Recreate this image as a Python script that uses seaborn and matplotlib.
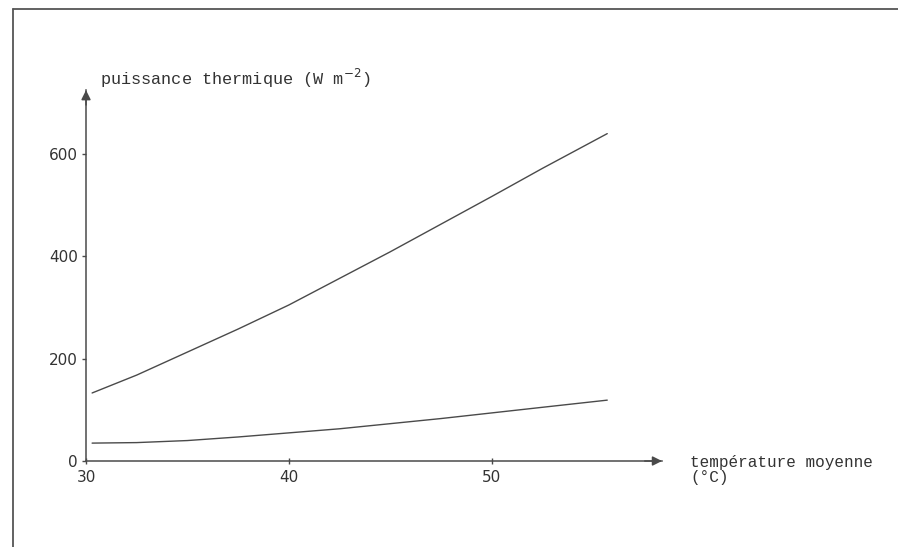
import numpy as np
import pandas as pd
import seaborn as sns
import matplotlib.pyplot as plt
from matplotlib.lines import Line2D

sns.set_theme(style="white")
plt.rcParams['font.family'] = ['DejaVu Sans']

# Werte
temp_haut = [30.3, 32.5, 35.0, 37.5, 40.0, 42.5, 45.0, 47.5, 50.0, 52.5, 55.7]
puissance_haut = [133, 168, 213, 258, 305, 357, 409, 463, 517, 572, 640]

temp_bas = [30.3, 32.5, 35.0, 37.5, 40.0, 42.5, 45.0, 47.5, 50.0, 52.5, 55.7]
puissance_bas = [35, 36, 40, 47, 55, 63, 73, 83, 94, 105, 119]

x_ticks = [30, 40, 50]
y_ticks = [0, 200, 400, 600]

INK = '#4a4a4a'
MONO = 'Liberation Mono'

fig = plt.figure(figsize=(8.98, 5.47), dpi=100)
ax = fig.add_axes([0.0958, 0.1572, 0.6414, 0.678])

df_haut = pd.DataFrame({'temp': temp_haut, 'puissance': puissance_haut})
df_bas = pd.DataFrame({'temp': temp_bas, 'puissance': puissance_bas})
sns.lineplot(data=df_haut, x='temp', y='puissance', color=INK, linewidth=1.0, ax=ax)
sns.lineplot(data=df_bas, x='temp', y='puissance', color=INK, linewidth=1.0, ax=ax)

ax.set_xlim(30, 58.4)
ax.set_ylim(0, 725)
ax.set_xticks(x_ticks)
ax.set_yticks(y_ticks)
ax.set_xticklabels([str(v) for v in x_ticks], fontsize=11, color='#333333')
ax.set_yticklabels([str(v) for v in y_ticks], fontsize=11, color='#333333')
ax.tick_params(axis='x', direction='inout', length=5, width=1, color=INK, pad=4, bottom=True)
ax.tick_params(axis='y', direction='out', length=3, width=1, color=INK, pad=3, left=True)
ax.set_xlabel('')
ax.set_ylabel('')

# Achsen als Pfeile
for side in ['top', 'right']:
	ax.spines[side].set_visible(False)
for side in ['left', 'bottom']:
	ax.spines[side].set_color(INK)
	ax.spines[side].set_linewidth(1.1)
ax.annotate('', xy=(1.0, 0.0), xytext=(0.97, 0.0), xycoords='axes fraction',
	arrowprops=dict(arrowstyle='-|>', color=INK, lw=1.1, mutation_scale=14, shrinkA=0, shrinkB=0))
ax.annotate('', xy=(0.0, 1.0), xytext=(0.0, 0.96), xycoords='axes fraction',
	arrowprops=dict(arrowstyle='-|>', color=INK, lw=1.1, mutation_scale=14, shrinkA=0, shrinkB=0))

# Achsenbeschriftungen im Schreibmaschinenstil
fig.text(100 / 898, 1 - 78 / 547, 'puissance thermique (W m$^{-2}$)', family=MONO,
	fontsize=12.2, color='#333333', va='center', ha='left')
fig.text(690 / 898, 1 - 470 / 547, 'température moyenne\n(°C)', family=MONO,
	fontsize=11.5, color='#333333', va='center', ha='left', linespacing=1.0)

# Rahmen oben und links
fig.add_artist(Line2D([12.5 / 898, 1.0], [1 - 9 / 547, 1 - 9 / 547], color='#555555', linewidth=1.3))
fig.add_artist(Line2D([12.5 / 898, 12.5 / 898], [0.0, 1 - 9 / 547], color='#555555', linewidth=1.3))

plt.savefig('out.png', dpi=100)
plt.close()
